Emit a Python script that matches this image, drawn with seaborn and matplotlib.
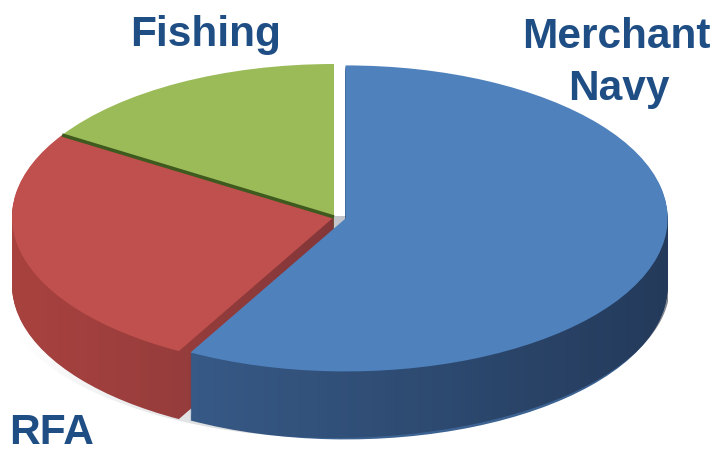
import numpy as np
import matplotlib
matplotlib.use("Agg")
import matplotlib.pyplot as plt
import matplotlib.patches as mpatches
import seaborn as sns

labels = ["Fishing", "RFA", "Merchant\nNavy"]
shares = [16, 26, 58]
top_colors = ["#9BBB59", "#C0504D", "#4F81BD"]
side_colors = ["#7A9846", "#A8423F", "#3D6393"]
explode = [0.0, 0.0, 12.0]

sns.set_theme(style="white")
plt.rcParams["font.family"] = ["Liberation Sans", "DejaVu Sans"]

W, H = 717, 453
fig = plt.figure(figsize=(W / 100, H / 100), dpi=100)
ax = fig.add_axes([0, 0, 1, 1])

# pie drawn as a circle, then squashed into an ellipse through the y limits
R = 322
squash = R / 153
cx, cy = 334, (H - 217) * squash
depth = 68 * squash

# side walls: stacked copies of the pie shifted downward
for off in np.linspace(depth, 2, 75):
    ax.pie(shares, radius=R, center=(cx, cy - off), startangle=90,
           colors=side_colors, explode=explode, frame=True,
           wedgeprops=dict(linewidth=0))

# horizontal shading of the walls
theta = np.linspace(0, np.pi, 200)
upper = np.column_stack([cx + (R + 14) * np.cos(theta), cy + R * np.sin(theta)])
lower = np.column_stack([cx - (R + 14) * np.cos(theta), cy - depth - R * np.sin(theta)])
clip = mpatches.Polygon(np.vstack([upper, lower]), closed=True,
                        transform=ax.transData)
ramp = np.zeros((2, 256, 4))
ramp[..., 3] = np.linspace(0.0, 0.55, 256) ** 1.1
ramp[..., :3] = np.array([0.05, 0.08, 0.15])
im = ax.imshow(ramp, extent=(cx - R, cx + R + 12, cy - depth - R, cy),
               aspect="auto", zorder=3, interpolation="bilinear")
im.set_clip_path(clip)

# top faces
wedges, _ = ax.pie(shares, radius=R, center=(cx, cy), startangle=90,
                   colors=top_colors, explode=explode, frame=True,
                   wedgeprops=dict(linewidth=0))
for w in wedges:
    w.set_zorder(4)
# dark seam between Fishing and RFA
ang = np.deg2rad(90 + 360 * shares[0] / sum(shares))
ax.plot([cx, cx + R * np.cos(ang)], [cy, cy + R * np.sin(ang)],
        color="#3E5A1E", lw=2.5, zorder=5, solid_capstyle="butt")

ax.set_aspect("auto")
ax.set_xlim(0, W)
ax.set_ylim(0, H * squash)
ax.axis("off")

txt = dict(color="#1F4E85", fontsize=30.5, fontweight="bold", va="baseline")
fig.text(206 / W, 1 - 46 / H, labels[0], ha="center", **txt)
fig.text(9 / W, 1 - 444 / H, labels[1], ha="left", **txt)
line1, line2 = labels[2].split("\n")
fig.text(616 / W, 1 - 48 / H, line1, ha="center", **txt)
fig.text(619 / W, 1 - 100 / H, line2, ha="center", **txt)

fig.savefig("out.png", dpi=100)
